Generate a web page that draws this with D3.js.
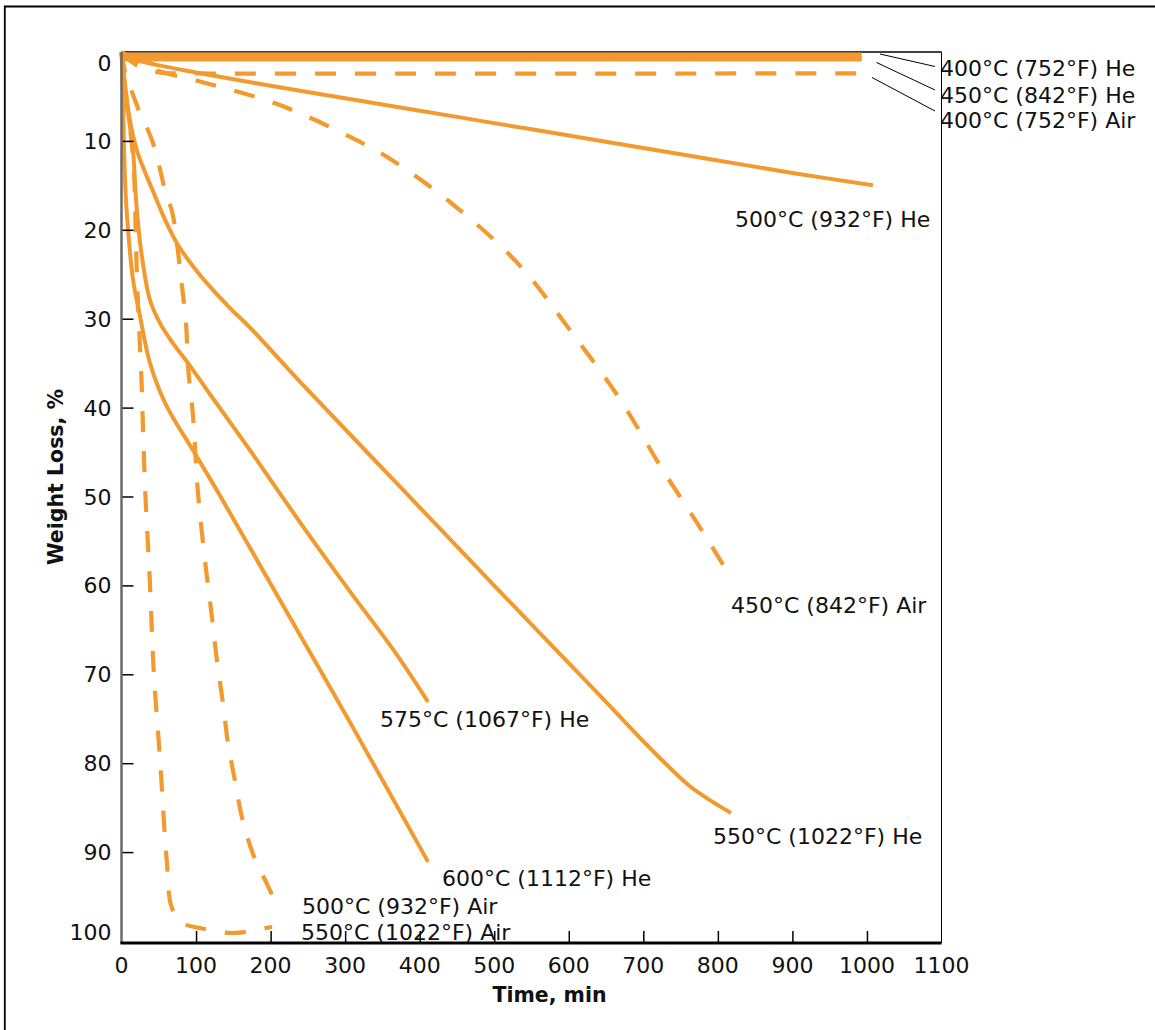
<!DOCTYPE html>
<html><head><meta charset="utf-8">
<script src="https://cdn.jsdelivr.net/npm/d3@7"></script>
<style>
body{margin:0;background:#fff}
svg{display:block}
text{font-family:"DejaVu Sans",sans-serif;fill:#111}
</style>
</head><body>
<svg id="chart" width="1155" height="1030"></svg>
<script>
// ---- data (time in min, weight loss in %) ----
const xTickValues = [0,100,200,300,400,500,600,700,800,900,1000,1100];
const yTickValues = [0,10,20,30,40,50,60,70,80,90,100];

const s400He  = [[0,0.35],[993,0.35]];
const s450He  = [[0,0.8],[993,0.8]];
const s400Air = [[0,0],[12,1.0],[30,1.9],[55,2.35],[80,2.4],[991,2.4]];
const s500He  = [[0,0.5],[50,1.5],[100,2.3],[200,3.8],[300,5.2],[400,6.6],[500,8.0],[600,9.4],[700,10.8],[800,12.2],[900,13.6],[1008,15.0]];
const s450Air = [[0,0],[45,2.0],[100,3.2],[207,5.8],[308,9.6],[360,12],[441,16.9],[532,23.8],[600,31.1],[669,39.1],[723,46.6],[783,54.4],[818,59.2]];
const s550He  = [[0,0],[3.4,2.6],[10.1,7.1],[20.4,11],[31.5,13.5],[44.9,16.2],[59.7,19.1],[75.8,21.7],[95.9,24.1],[118.7,26.4],[145.6,28.8],[172.4,31.0],[239.5,37.1],[373.6,48.9],[507.7,60.7],[641.9,72.4],[708.9,78.3],[762.6,82.6],[792,84.3],[817.6,85.6]];
const s575He  = [[0,0],[3.4,3.15],[10.1,7.65],[15.4,11],[19.5,16.6],[26.2,22.3],[38.2,27.9],[51.6,30.5],[67.7,32.6],[91.9,35.3],[118.7,38.5],[172.4,44.8],[239.5,52.9],[306.6,60.7],[366.9,67.5],[411.2,73.1]];
const s600He  = [[0,0],[2,4.3],[3.4,11],[6,16.6],[8.7,19.9],[15.4,25.6],[24.8,29.7],[38.2,35],[59.7,39.7],[95.9,44.8],[132.1,49.9],[199.2,59.7],[306.5,75.4],[411.2,91.1]];
const s500Air = [[0,0],[7.4,3.2],[14,4.5],[24.8,6.9],[35.6,8.8],[42,10.2],[52,13.3],[58,15.5],[68,18],[74,21.3],[80.5,25.9],[86.5,30.5],[89.5,35.6],[95.8,40.8],[102,49],[108,54.2],[114.7,59.1],[121.4,63.6],[128.1,68.5],[136.2,73.3],[142.9,77.8],[152.3,82],[161.6,86.1],[176.4,90.2],[195.2,93.6],[205.9,95.5]];
const s550Air = [[0,0],[4,3.5],[9,7],[14,10.5],[17,14],[19,20],[21,26],[24,31.7],[27,37.3],[29,42.9],[32,49.7],[38,59.5],[43,69.3],[52,80],[61,91.3],[67.7,96.3],[82.5,98],[109,98.6],[150,99.1],[202,98.4]];

const seriesLabels = ["400°C (752°F) He","450°C (842°F) He","400°C (752°F) Air","500°C (932°F) He","450°C (842°F) Air","550°C (1022°F) He","575°C (1067°F) He","600°C (1112°F) He","500°C (932°F) Air","550°C (1022°F) Air"];
const seriesData   = [s400He,s450He,s400Air,s500He,s450Air,s550He,s575He,s600He,s500Air,s550Air];
const seriesDashed = [false,false,true,false,true,false,false,false,true,true];

// ---- layout ----
const W = 1155, H = 1030;
const L = 121.5, R = 941.5, T = 52, B = 941;
const ORANGE = "#f39a2e";
const labelPos = [
  {x:940,y:76, lead:[[880,54],[935,66.5]]},
  {x:940,y:103, lead:[[876.5,62.5],[935,90]]},
  {x:940,y:128, lead:[[872,77.5],[935,111]]},
  {x:735,y:227},
  {x:731,y:613},
  {x:713,y:844},
  {x:380,y:727},
  {x:442,y:886},
  {x:302,y:914},
  {x:301,y:940}
];

const svg = d3.select("#chart");
const x = d3.scaleLinear().domain([0,1100]).range([L,R]);
const y = d3.scaleLinear().domain([0,100]).range([T,B]);

// outer frame (left & top)
svg.append("path").attr("d",`M4.8,${H} V6.5 H${W}`).attr("fill","none").attr("stroke","#000").attr("stroke-width",1.8);

// right edge (thin) and top edge
svg.append("line").attr("x1",R).attr("x2",R).attr("y1",T).attr("y2",B+2).attr("stroke","#000").attr("stroke-width",1);
svg.append("line").attr("x1",L).attr("x2",R).attr("y1",T).attr("y2",T).attr("stroke","#000").attr("stroke-width",1.5);

// curves
const line = d3.line().x(d=>x(d[0])).y(d=>y(d[1])).curve(d3.curveCatmullRom.alpha(0.5));
const g = svg.append("g");
seriesData.forEach((s,i)=>{
  g.append("path").datum(s).attr("d",line)
    .attr("fill","none").attr("stroke",ORANGE)
    .attr("stroke-width", i<2 ? 5 : (seriesDashed[i]?4.2:4))
    .attr("stroke-dasharray", seriesDashed[i] ? "21,19" : null)
    .attr("stroke-linecap","butt").attr("stroke-linejoin","round");
});

// left axis
const yAxis = d3.axisRight(y).tickValues(yTickValues.filter(v=>v>0&&v<100)).tickSize(12).tickFormat("");
const ya = svg.append("g").attr("transform",`translate(${L},0)`).call(yAxis);
ya.select(".domain").remove();
ya.selectAll(".tick line").attr("stroke","#000").attr("stroke-width",1.5);
svg.append("line").attr("x1",L).attr("x2",L).attr("y1",T).attr("y2",B+3).attr("stroke","#6a6a6a").attr("stroke-width",2.5);

// bottom axis
const xAxis = d3.axisTop(x).tickValues(xTickValues.filter(v=>v>0&&v<1100)).tickSize(12).tickFormat("");
const xa = svg.append("g").attr("transform",`translate(0,${B+2})`).call(xAxis);
xa.select(".domain").remove();
xa.selectAll(".tick line").attr("stroke","#000").attr("stroke-width",1.5);
svg.append("line").attr("x1",L-1).attr("x2",R).attr("y1",B+2).attr("y2",B+2).attr("stroke","#000").attr("stroke-width",3);

// tick labels
svg.append("g").selectAll("text").data(yTickValues).join("text")
  .attr("x",L-10)
  .attr("y",d=> d===0 ? y(d)+19 : (d===100 ? y(d)-1 : y(d)+8))
  .attr("text-anchor","end").attr("font-size",22).text(d=>d);
svg.append("g").selectAll("text").data(xTickValues).join("text")
  .attr("x",d=>x(d)).attr("y",973)
  .attr("text-anchor","middle").attr("font-size",22).text(d=>d);

// axis titles
svg.append("text").attr("x",(L+R)/2+18).attr("y",1002).attr("text-anchor","middle")
  .attr("font-size",20.5).attr("font-weight","bold").text("Time, min");
svg.append("text").attr("transform",`translate(63,${477}) rotate(-90)`).attr("text-anchor","middle")
  .attr("font-size",20.5).attr("font-weight","bold").text("Weight Loss, %");

// series labels
seriesLabels.forEach((t,i)=>{
  const p = labelPos[i];
  svg.append("text").attr("x",p.x).attr("y",p.y).attr("font-size",22).text(t);
  if(p.lead){
    svg.append("line").attr("x1",p.lead[0][0]).attr("y1",p.lead[0][1]).attr("x2",p.lead[1][0]).attr("y2",p.lead[1][1])
      .attr("stroke","#000").attr("stroke-width",1);
  }
});
</script>
</body></html>
